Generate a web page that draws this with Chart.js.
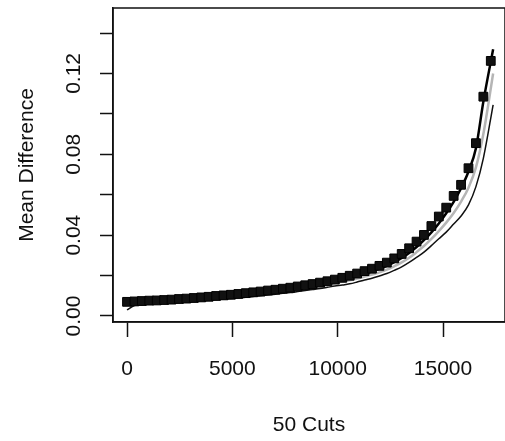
<!DOCTYPE html>
<html>
<head>
<meta charset="utf-8">
<script src="https://cdn.jsdelivr.net/npm/chart.js@4"></script>
<style>
  html, body { margin: 0; padding: 0; background: #fff; overflow: hidden; }
  #wrap { width: 505px; height: 441px; }
</style>
</head>
<body>
<div id="wrap"><canvas id="cutsChart"></canvas></div>
<script>
// cut positions (x) and the mean difference at each cut
var cutX = [0, 352, 705, 1057, 1410, 1762, 2114, 2467, 2819, 3172,
    3524, 3876, 4229, 4581, 4934, 5286, 5638, 5991, 6343, 6696,
    7048, 7400, 7753, 8105, 8458, 8810, 9162, 9515, 9867, 10220,
    10572, 10924, 11277, 11629, 11982, 12334, 12686, 13039, 13391, 13744,
    14096, 14448, 14801, 15153, 15506, 15858, 16210, 16563, 16915, 17268];
var meanDiff = [0.0070, 0.0072, 0.0074, 0.0076, 0.0077, 0.0079, 0.0081, 0.0084, 0.0086, 0.0089,
    0.0092, 0.0095, 0.0099, 0.0102, 0.0105, 0.0109, 0.0113, 0.0117, 0.0121, 0.0126,
    0.0130, 0.0135, 0.0140, 0.0146, 0.0152, 0.0158, 0.0165, 0.0172, 0.0180, 0.0189,
    0.0199, 0.0210, 0.0222, 0.0234, 0.0248, 0.0264, 0.0285, 0.0307, 0.0335, 0.0368,
    0.0401, 0.0445, 0.0492, 0.0536, 0.0594, 0.0649, 0.0731, 0.0855, 0.1085, 0.1262];

// the three fitted curves share their x positions (last one runs a bit further)
var curveX = [0, 352, 705, 1057, 1410, 1762, 2114, 2467, 2819, 3172,
    3524, 3876, 4229, 4581, 4934, 5286, 5638, 5991, 6343, 6696,
    7048, 7400, 7753, 8105, 8458, 8810, 9162, 9515, 9867, 10220,
    10572, 10924, 11277, 11629, 11982, 12334, 12686, 13039, 13391, 13744,
    14096, 14448, 14801, 15153, 15506, 15858, 16210, 16563, 16915, 17380];
var upperCurve = [0.0066, 0.0068, 0.0070, 0.0072, 0.0073, 0.0075, 0.0077, 0.0079, 0.0081, 0.0084,
    0.0087, 0.0090, 0.0093, 0.0096, 0.0099, 0.0103, 0.0106, 0.0110, 0.0114, 0.0118,
    0.0122, 0.0127, 0.0132, 0.0137, 0.0143, 0.0149, 0.0155, 0.0162, 0.0169, 0.0178,
    0.0187, 0.0197, 0.0208, 0.0220, 0.0233, 0.0248, 0.0266, 0.0287, 0.0312, 0.0341,
    0.0375, 0.0414, 0.0458, 0.0508, 0.0565, 0.0632, 0.0715, 0.0830, 0.1060, 0.1320];
var grayCurve = [0.0058, 0.0061, 0.0064, 0.0066, 0.0068, 0.0070, 0.0072, 0.0075, 0.0077, 0.0080,
    0.0083, 0.0086, 0.0089, 0.0092, 0.0095, 0.0099, 0.0102, 0.0106, 0.0110, 0.0114,
    0.0118, 0.0122, 0.0127, 0.0132, 0.0137, 0.0143, 0.0149, 0.0156, 0.0163, 0.0170,
    0.0177, 0.0185, 0.0195, 0.0205, 0.0216, 0.0229, 0.0246, 0.0265, 0.0288, 0.0316,
    0.0346, 0.0381, 0.0420, 0.0462, 0.0510, 0.0566, 0.0635, 0.0735, 0.0900, 0.1200];
var lowerCurve = [0.0030, 0.0052, 0.0056, 0.0059, 0.0061, 0.0063, 0.0065, 0.0067, 0.0069, 0.0072,
    0.0075, 0.0078, 0.0081, 0.0084, 0.0087, 0.0090, 0.0093, 0.0097, 0.0100, 0.0104,
    0.0108, 0.0112, 0.0116, 0.0121, 0.0126, 0.0131, 0.0136, 0.0142, 0.0148, 0.0153,
    0.0159, 0.0168, 0.0178, 0.0187, 0.0198, 0.0210, 0.0226, 0.0243, 0.0265, 0.0290,
    0.0316, 0.0348, 0.0382, 0.0415, 0.0455, 0.0495, 0.0550, 0.0640, 0.0780, 0.1045];

var xTicks = [0, 5000, 10000, 15000];
var yTicks = [0, 0.02, 0.04, 0.06, 0.08, 0.10, 0.12, 0.14];
var yLabels = ['0.00', '0.04', '0.08', '0.12'];

var FONT = "'Liberation Sans', Arial, sans-serif";
var INK = '#111';

function pts(xs, ys) {
    return ys.map(function (y, i) { return { x: xs[i], y: y }; });
}

// box around the plot + rotated y tick labels (R style)
var rStyle = {
    id: 'rStyle',
    afterDraw: function (chart) {
        var ctx = chart.ctx;
        var a = chart.chartArea;
        ctx.save();
        ctx.strokeStyle = INK;
        ctx.lineWidth = 1.5;
        ctx.strokeRect(a.left, a.top, a.right - a.left, a.bottom - a.top);

        var ys = chart.scales.y;
        ctx.fillStyle = INK;
        ctx.font = '21px ' + FONT;
        ctx.textAlign = 'center';
        ctx.textBaseline = 'middle';
        yLabels.forEach(function (lab) {
            var py = ys.getPixelForValue(parseFloat(lab));
            ctx.save();
            ctx.translate(74, py);
            ctx.rotate(-Math.PI / 2);
            ctx.fillText(lab, 0, 0);
            ctx.restore();
        });
        ctx.restore();
    }
};

var ctx = document.getElementById('cutsChart').getContext('2d');
var cutsChart = new Chart(ctx, {
    type: 'scatter',
    data: {
        datasets: [{
            label: 'Mean Difference',
            data: pts(cutX, meanDiff),
            pointStyle: 'rect',
            pointRadius: 6.2,
            backgroundColor: '#111',
            borderColor: '#000',
            borderWidth: 1,
            showLine: false
        }, {
            label: 'upper',
            data: pts(curveX, upperCurve),
            showLine: true,
            pointRadius: 0,
            borderColor: '#000',
            borderWidth: 2.5,
            cubicInterpolationMode: 'monotone'
        }, {
            label: 'gray',
            data: pts(curveX, grayCurve),
            showLine: true,
            pointRadius: 0,
            borderColor: '#b5b5b5',
            borderWidth: 2.5,
            cubicInterpolationMode: 'monotone'
        }, {
            label: 'lower',
            data: pts(curveX, lowerCurve),
            showLine: true,
            pointRadius: 0,
            borderColor: '#111',
            borderWidth: 1.5,
            cubicInterpolationMode: 'monotone'
        }]
    },
    options: {
        responsive: true,
        maintainAspectRatio: false,
        animation: false,
        layout: { autoPadding: false, padding: { top: 8, right: 0, left: 0, bottom: 0 } },
        plugins: {
            legend: { display: false },
            tooltip: { enabled: false }
        },
        scales: {
            x: {
                type: 'linear',
                min: -665,
                max: 17943,
                afterBuildTicks: function (s) { s.ticks = xTicks.map(function (v) { return { value: v }; }); },
                afterFit: function (s) { s.height = 119; },
                grid: { drawOnChartArea: false, drawTicks: true, tickLength: 15, tickWidth: 1.5, tickColor: INK },
                border: { display: true, color: INK, width: 1.5 },
                ticks: {
                    padding: 20,
                    maxRotation: 0,
                    color: INK,
                    font: { family: FONT, size: 21 },
                    callback: function (v) { return String(v); }
                },
                title: {
                    display: true,
                    text: '50 Cuts',
                    color: INK,
                    font: { family: FONT, size: 21 },
                    padding: { top: 0, bottom: 3 }
                }
            },
            y: {
                type: 'linear',
                min: -0.00297,
                max: 0.15237,
                afterBuildTicks: function (s) { s.ticks = yTicks.map(function (v) { return { value: v }; }); },
                afterFit: function (s) { s.width = 113; },
                grid: { drawOnChartArea: false, drawTicks: true, tickLength: 13, tickWidth: 1.5, tickColor: INK },
                border: { display: true, color: INK, width: 1.5 },
                ticks: { display: false },
                title: {
                    display: true,
                    text: 'Mean Difference',
                    color: INK,
                    font: { family: FONT, size: 21 },
                    padding: { top: 15, bottom: 0 }
                }
            }
        }
    },
    plugins: [rStyle]
});
</script>
</body>
</html>
